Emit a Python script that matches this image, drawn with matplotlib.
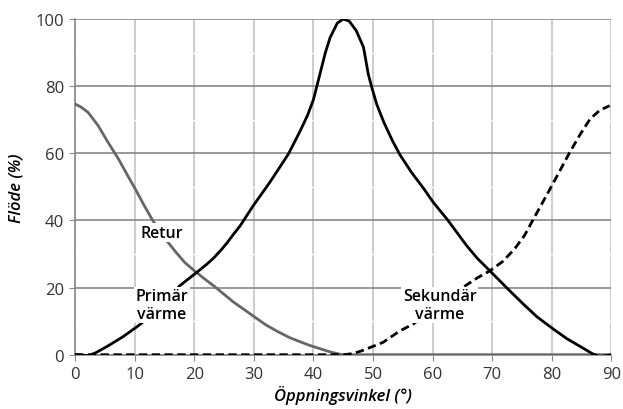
import numpy as np
import matplotlib.pyplot as plt

plt.rcParams['font.family'] = ['Open Sans', 'DejaVu Sans']

# Öppningsvinkel (grader) och flöde (%)
retur_x = [0, 1, 2.2, 3.9, 5.5, 7.3, 8.7, 10.1, 11.5, 12.9, 14.2, 15.6, 17, 18.4, 20.1,
           21.8, 23.5, 25, 26.5, 28.5, 30, 32.1, 34, 36, 37.7, 39.5, 41.1, 42.5, 44, 45,
           50, 60, 70, 80, 90]
retur_y = [74.7, 73.8, 72.2, 68.2, 63.4, 58.3, 53.8, 49.4, 44.8, 40.4, 36.8, 33.5, 30.4,
           27.5, 24.9, 22.5, 20.2, 18, 15.8, 13.3, 11.4, 8.8, 6.9, 5.1, 3.9, 2.7, 1.8,
           1.0, 0.3, 0, 0, 0, 0, 0, 0]

primar_x = [0, 1, 2.2, 3.5, 5.6, 8, 10.6, 12.5, 15, 17.6, 20.4, 22, 23.2, 24.5, 25.5,
            26.5, 27.7, 29.9, 32.7, 35.8, 37.7, 39, 40, 41, 42, 42.8, 44, 45, 46, 47.2,
            48.4, 49.2, 49.8, 50.6, 51.8, 52.5, 53.3, 54.5, 56.5, 58.5, 60.1, 62.5,
            65.7, 67.5, 69.6, 72.5, 75.2, 77.5, 80.2, 82.5, 85, 86.9, 88, 89, 90]
primar_y = [0, -0.1, -0.3, 0.6, 2.7, 5.3, 8.6, 11.3, 15.4, 20.6, 24.5, 26.8, 28.7, 31.2,
            33.3, 35.7, 38.4, 44.4, 51.4, 59.8, 66.4, 71.3, 76, 83, 90, 94.5, 98.8, 100,
            99.4, 96.5, 91.6, 83.6, 79.6, 74.7, 69.3, 66.6, 63.6, 59.6, 54.2, 49.5, 45.4,
            40.2, 32.5, 28.7, 25, 19.8, 15.1, 11.3, 7.7, 4.8, 2.2, 0.2, -0.5, -0.3, 0]

sekundar_x = [0, 10, 20, 30, 40, 44, 45, 46.5, 48, 50, 51.7, 54.5, 56.7, 59, 61, 63,
              65.1, 67.5, 69.6, 71.7, 73.7, 75.4, 76.9, 78.3, 79.7, 81.4, 83, 84.7,
              86.4, 88, 89.7]
sekundar_y = [0, 0, 0, 0, 0, 0, 0, 0.3, 1.1, 2.5, 3.7, 7.1, 9.1, 12.0, 14.6, 17.3,
              20.1, 22.9, 25, 27.7, 31.4, 35.5, 40.4, 44.9, 49.4, 55.0, 60.3, 65.5,
              70.2, 72.8, 74.2]

xticks = [0, 10, 20, 30, 40, 50, 60, 70, 80, 90]
yticks = [0, 20, 40, 60, 80, 100]

fig = plt.figure(figsize=(6.23, 4.10), dpi=100)
ax = fig.add_axes([0.1204, 0.1324, 0.8611, 0.8186])

ax.plot(retur_x, retur_y, color='#666666', lw=2, zorder=3)
ax.plot(primar_x, primar_y, color='black', lw=2, zorder=4)
ax.plot(sekundar_x, sekundar_y, color='black', lw=2, ls=(0, (3, 1.6)), zorder=4)

ax.set_xlim(0, 90)
ax.set_ylim(0, 100)
ax.set_xticks(xticks)
ax.set_yticks(yticks)
ax.set_yticks([10, 30, 50, 70, 90], minor=True)
ax.tick_params(which='minor', length=0)
ax.tick_params(which='major', length=4, color='#888888', labelsize=12,
               labelcolor='#333333', pad=4)

ax.grid(axis='x', color='#c4c4c4', lw=1.2, zorder=0)
ax.grid(axis='y', which='major', color='#888888', lw=1.2, zorder=1)
ax.grid(axis='y', which='minor', color='white', lw=1, zorder=0.5)
ax.set_axisbelow(True)

for s in ['top', 'right']:
    ax.spines[s].set_visible(False)
for s in ['left', 'bottom']:
    ax.spines[s].set_color('#888888')
    ax.spines[s].set_linewidth(1.2)

box = dict(facecolor='white', edgecolor='none', pad=1)
ax.text(14.6, 36.3, 'Retur', ha='center', va='center', fontsize=11.5,
        fontweight='semibold', bbox=box, zorder=5)
ax.text(14.6, 14.8, 'Primär\nvärme', ha='center', va='center', fontsize=11.5,
        fontweight='semibold', bbox=box, zorder=5, linespacing=1.1)
ax.text(61.2, 14.8, 'Sekundär\nvärme', ha='center', va='center', fontsize=11.5,
        fontweight='semibold', bbox=box, zorder=5, linespacing=1.1)

ax.set_xlabel('Öppningsvinkel (°)', fontsize=12, fontstyle='italic',
              fontweight='semibold', labelpad=2)
ax.set_ylabel('Flöde (%)', fontsize=12, fontstyle='italic',
              fontweight='semibold', labelpad=8)

fig.savefig('out.png', dpi=100)
